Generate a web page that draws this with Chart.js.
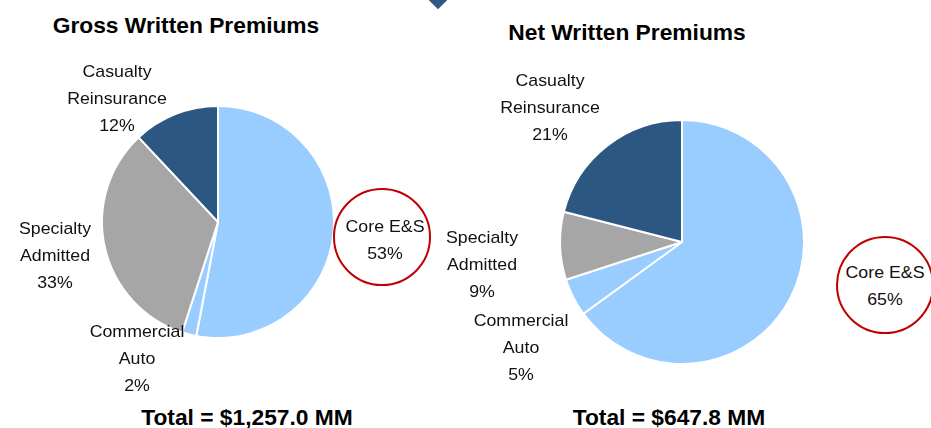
<!DOCTYPE html>
<html>
<head>
<meta charset="utf-8">
<script src="https://cdn.jsdelivr.net/npm/chart.js@4/dist/chart.umd.min.js"></script>
<style>
  html, body { margin: 0; padding: 0; background: #fff; }
  #stage {
    position: relative; width: 931px; height: 428px; overflow: hidden;
    font-family: 'Liberation Sans', Arial, sans-serif; color: #000;
  }
  .pie { position: absolute; }
  .title, .total {
    position: absolute; transform: translateX(-50%) scaleX(1.035); white-space: nowrap;
    font-size: 22px; font-weight: bold; line-height: 30px;
  }
  .lbl {
    position: absolute; transform: translateX(-50%) scaleX(1.07); white-space: nowrap;
    text-align: center; font-size: 16.6px; line-height: 27px; color: #111;
  }
  .ring {
    position: absolute; border: 2.5px solid #C00000; border-radius: 50%;
    box-sizing: border-box;
  }
  .diamond {
    position: absolute; width: 16px; height: 16px; background: #2C5A85;
    transform: rotate(45deg);
  }
</style>
</head>
<body>
<div id="stage">
  <div class="diamond" style="left:430px; top:-10px;"></div>
</div>

<script>
'use strict';

/* ── DATA ── */
const CATEGORY_LINES = [['Core E&S'], ['Commercial', 'Auto'], ['Specialty', 'Admitted'], ['Casualty', 'Reinsurance']];
const GROSS_SHARE = [53, 2, 33, 12];
const NET_SHARE   = [65, 5, 9, 21];
const TITLES = ['Gross Written Premiums', 'Net Written Premiums'];
const TOTALS = ['Total = $1,257.0 MM', 'Total = $647.8 MM'];

/* ── STYLE ── */
const SLICE_COLORS = ['#99CCFF', '#99CCFF', '#A6A6A6', '#2C5782'];

/* ── LAYOUT (centre x, first-line centre y) ── */
const PANELS = [
  {
    data: GROSS_SHARE, cx: 218, cy: 222, r: 116,
    title: { x: 186, y: 26 }, total: { x: 247, y: 418 },
    labels: [{ x: 385, y: 226 }, { x: 137, y: 331 }, { x: 55, y: 228 }, { x: 117, y: 71 }],
    ring: { x: 382, y: 237, r: 49 }
  },
  {
    data: NET_SHARE, cx: 682, cy: 242, r: 122,
    title: { x: 627, y: 33 }, total: { x: 669, y: 418 },
    labels: [{ x: 885, y: 272 }, { x: 521, y: 320 }, { x: 482, y: 237 }, { x: 550, y: 80 }],
    ring: { x: 885, y: 285, r: 49 }
  }
];

const stage = document.getElementById('stage');

function addText(cls, text, x, top) {
  const el = document.createElement('div');
  el.className = cls;
  el.style.left = x + 'px';
  el.style.top = top + 'px';
  el.innerHTML = text;
  stage.appendChild(el);
  return el;
}

PANELS.forEach((p, idx) => {
  /* pie canvas */
  const size = p.r * 2 + 20;
  const canvas = document.createElement('canvas');
  canvas.className = 'pie';
  canvas.width = size;
  canvas.height = size;
  canvas.style.width = size + 'px';
  canvas.style.height = size + 'px';
  canvas.style.left = (p.cx - size / 2) + 'px';
  canvas.style.top = (p.cy - size / 2) + 'px';
  stage.appendChild(canvas);

  new Chart(canvas, {
    type: 'pie',
    data: {
      labels: CATEGORY_LINES.map(l => l.join(' ')),
      datasets: [{
        data: p.data,
        backgroundColor: SLICE_COLORS,
        borderColor: '#FFFFFF',
        borderWidth: 2,
        radius: p.r
      }]
    },
    options: {
      responsive: false,
      animation: false,
      layout: { padding: 0 },
      plugins: { legend: { display: false }, tooltip: { enabled: false } }
    }
  });

  /* red highlight ring around Core E&S */
  const ring = document.createElement('div');
  ring.className = 'ring';
  ring.style.left = (p.ring.x - p.ring.r) + 'px';
  ring.style.top = (p.ring.y - p.ring.r) + 'px';
  ring.style.width = (p.ring.r * 2) + 'px';
  ring.style.height = (p.ring.r * 2) + 'px';
  stage.appendChild(ring);

  /* titles and totals */
  addText('title', TITLES[idx], p.title.x, p.title.y - 15);
  addText('total', TOTALS[idx], p.total.x, p.total.y - 15);

  /* slice labels */
  CATEGORY_LINES.forEach((lines, i) => {
    const txt = lines.concat([p.data[i] + '%']).join('<br>').replace('&S', '&amp;S');
    addText('lbl', txt, p.labels[i].x, p.labels[i].y - 13.5);
  });
});
</script>
</body>
</html>
